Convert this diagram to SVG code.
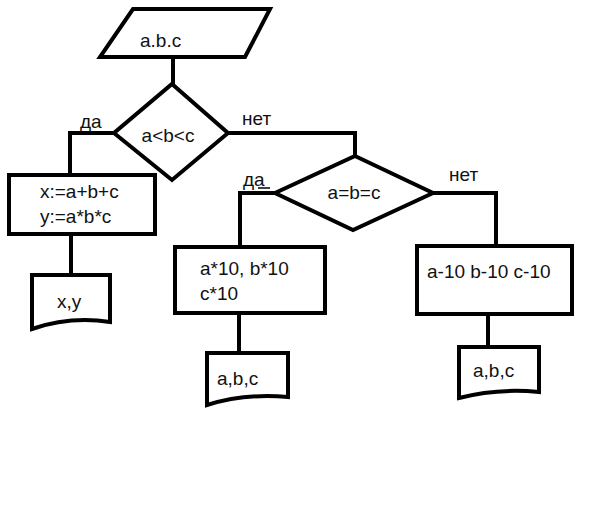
<svg xmlns="http://www.w3.org/2000/svg" width="600" height="528" viewBox="0 0 600 528">
<style>
.s{fill:#fff;stroke:#000;stroke-width:4;stroke-linejoin:miter}
.c{fill:none;stroke:#000;stroke-width:4}
text{font-family:"Liberation Sans",Arial,sans-serif;font-size:19px;fill:#111}
</style>
<rect width="600" height="528" fill="#fff"/>
<g id="connectors">
<path class="c" d="M173,57 V84"/>
<path class="c" d="M114,133 H70 V175"/>
<path class="c" d="M228,133 H355 V156"/>
<path class="c" d="M71,234 V275"/>
<path class="c" d="M275,193 H240 V247"/>
<path class="c" d="M433,193 H496 V246"/>
<path class="c" d="M239,313 V353"/>
<path class="c" d="M488,314 V347"/>
<path d="M258,188 H270" stroke="#000" stroke-width="1.5"/>
<text x="80" y="128">да</text>
<text x="242" y="125">нет</text>
<text x="243" y="186">да</text>
<text x="449" y="181">нет</text>
</g>
<g id="input">
<polygon class="s" points="133,9 270,9 245,57 100,57"/>
<text x="140" y="47">a.b.c</text>
</g>
<g id="cond1">
<polygon class="s" points="172,84 228,133 172,180 114,133"/>
<text x="168" y="142" text-anchor="middle">a&lt;b&lt;c</text>
</g>
<g id="proc1">
<rect class="s" x="9" y="175" width="146" height="59"/>
<text x="40" y="198">x:=a+b+c</text>
<text x="40" y="223">y:=a*b*c</text>
</g>
<g id="out1">
<path class="s" d="M32,275 H110 V322 Q70,316 32,329 Z"/>
<text x="57" y="308">x,y</text>
</g>
<g id="cond2">
<polygon class="s" points="355,156 433,193 353,230 275,193"/>
<text x="354" y="199" text-anchor="middle">a=b=c</text>
</g>
<g id="proc2">
<rect class="s" x="175" y="247" width="150" height="66"/>
<text x="200" y="275">a*10, b*10</text>
<text x="200" y="300">c*10</text>
</g>
<g id="out2">
<path class="s" d="M207,353 H288 V397 Q245,393 207,405 Z"/>
<text x="217" y="385">a,b,c</text>
</g>
<g id="proc3">
<rect class="s" x="417" y="246" width="155" height="68"/>
<text x="427" y="278">a-10 b-10 c-10</text>
</g>
<g id="out3">
<path class="s" d="M459,347 H539 V392 Q497,388 459,398 Z"/>
<text x="473" y="377">a,b,c</text>
</g>
</svg>
